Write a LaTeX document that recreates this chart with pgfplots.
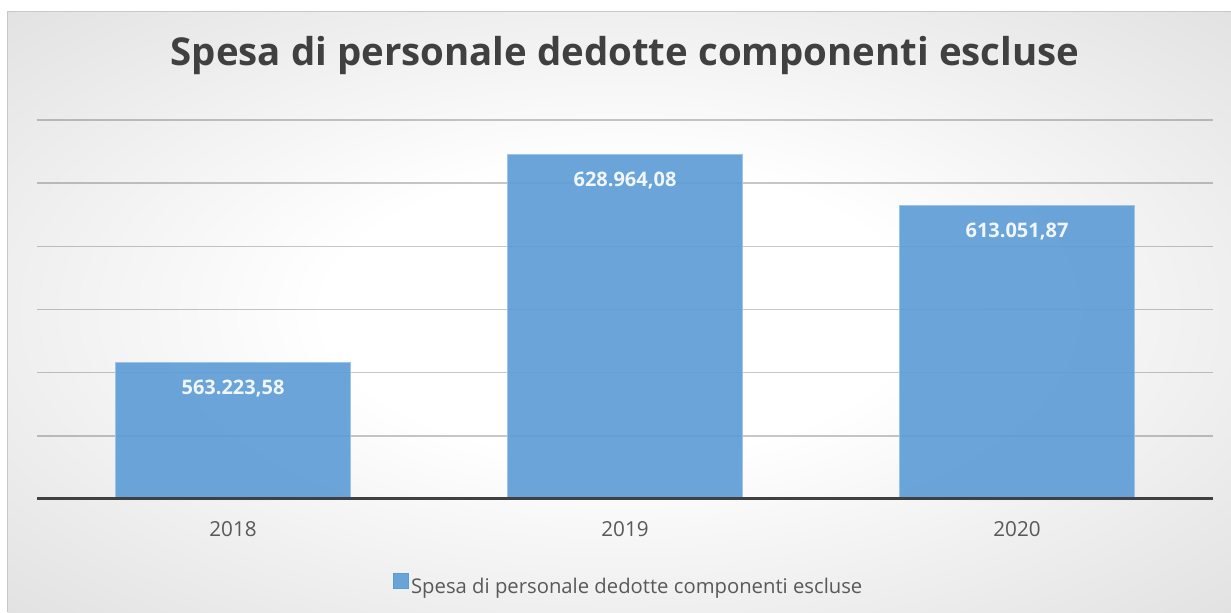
\documentclass[border=0pt]{standalone}
\usepackage{pgfplots}
\pgfplotsset{compat=1.18}
\usepackage{pgfplotstable}
\usepackage{fontspec}
\setmainfont{Open Sans}

\definecolor{titlec}{HTML}{404040}
\definecolor{textc}{HTML}{595959}
\definecolor{barc}{HTML}{5B9BD5}
\definecolor{bgmid}{HTML}{D0D0D0}
\definecolor{bgedge}{HTML}{C2C2C2}
\definecolor{framec}{HTML}{C8C8C8}

\pgfdeclareradialshading{chartbg}{\pgfpoint{0bp}{0bp}}{%
  color(0bp)=(white); color(12bp)=(white); color(50bp)=(bgmid); color(72bp)=(bgedge)}

\pgfplotstableread{
x y label
0 563223.58 563.223,58
1 628964.08 628.964,08
2 613051.87 613.051,87
}\spesa

\begin{document}
\begin{tikzpicture}
\useasboundingbox (-27.75pt,-84.75pt) rectangle (895.5pt,374.25pt);
\fill[white] (-27.75pt,-84.75pt) rectangle (895.5pt,374.25pt);
\shade[shading=chartbg] (-21.75pt,-84.75pt) rectangle (895.5pt,366pt);
\draw[framec, line width=0.75pt] (-21.75pt,-84.75pt) -- (-21.75pt,366pt) -- (895.5pt,366pt);
\begin{axis}[
  at={(0,0)}, anchor=south west,
  scale only axis,
  width=882pt, height=284.25pt,
  ybar, bar width=176.25pt,
  xmin=-0.5, xmax=2.5,
  ymin=520000, ymax=640000,
  scaled y ticks=false,
  xtick={0,1,2}, xticklabels={2018,2019,2020},
  ytick={520000,540000,...,640000}, yticklabels={},
  ymajorgrids,
  grid style={draw=black, opacity=0.22, line width=1.1pt},
  axis line style={draw=none},
  major tick length=0pt,
  xticklabel style={font=\fontsize{15.5}{18}\selectfont, text=textc, anchor=center, yshift=-22.9pt},
  title={Spesa di personale dedotte componenti escluse},
  title style={font=\fontsize{28.8}{34}\selectfont\bfseries, text=titlec, at={(0.5,1)}, anchor=base, yshift=35.25pt},
  legend style={at={(0.5034,0)}, anchor=base, yshift=-66pt, draw=none, fill=none,
    font=\fontsize{15.2}{18}\selectfont, text=textc, inner sep=0pt,
    /tikz/every even column/.append style={column sep=3pt}},
  legend image code/.code={\fill[barc, fill opacity=0.9] (0pt,-1pt) rectangle (11pt,10pt);},
  point meta=explicit symbolic,
  nodes near coords,
  every node near coord/.append style={font=\fontsize{15}{18}\selectfont\bfseries, text=white, anchor=center, yshift=-19.5pt},
]
\addplot[fill=barc, fill opacity=0.9, draw=barc!60!white, line width=0.6pt] table[x=x, y=y, meta=label] {\spesa};
\addlegendentry{Spesa di personale dedotte componenti escluse}
\draw[titlec, line width=3pt] (rel axis cs:0,0) -- (rel axis cs:1,0);
\end{axis}
\end{tikzpicture}
\end{document}
